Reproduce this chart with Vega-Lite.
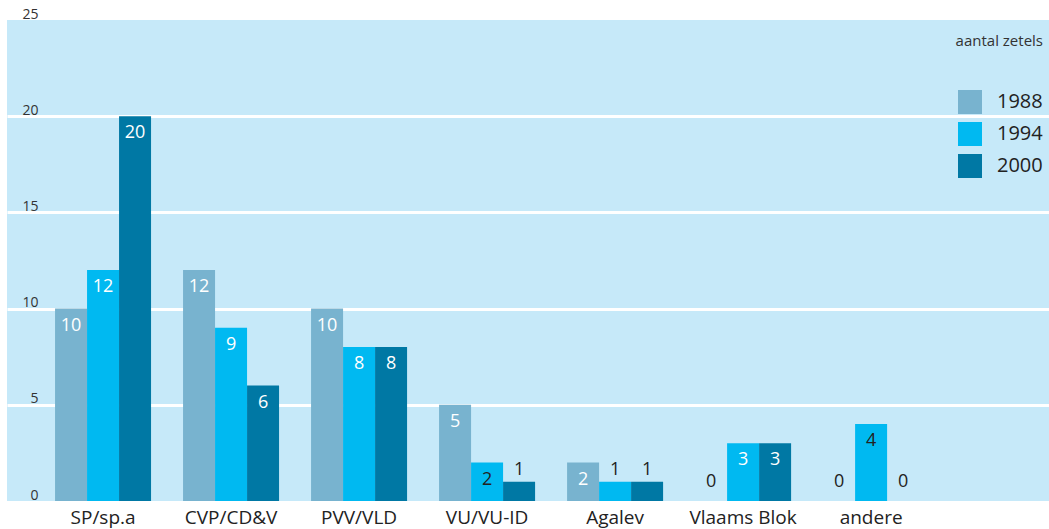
{
  "$schema": "https://vega.github.io/schema/vega-lite/v6.json",
  "width": 1042,
  "height": 481,
  "autosize": {"type": "none"},
  "padding": {"left": 7, "top": 20, "right": 0, "bottom": 28},
  "background": "white",
  "config": {
    "view": {"fill": "#c6e9f9", "stroke": null},
    "font": "Open Sans"
  },
  "data": {
    "values": [
      {"party": "SP/sp.a", "year": "1988", "seats": 10},
      {"party": "SP/sp.a", "year": "1994", "seats": 12},
      {"party": "SP/sp.a", "year": "2000", "seats": 20},
      {"party": "CVP/CD&V", "year": "1988", "seats": 12},
      {"party": "CVP/CD&V", "year": "1994", "seats": 9},
      {"party": "CVP/CD&V", "year": "2000", "seats": 6},
      {"party": "PVV/VLD", "year": "1988", "seats": 10},
      {"party": "PVV/VLD", "year": "1994", "seats": 8},
      {"party": "PVV/VLD", "year": "2000", "seats": 8},
      {"party": "VU/VU-ID", "year": "1988", "seats": 5},
      {"party": "VU/VU-ID", "year": "1994", "seats": 2},
      {"party": "VU/VU-ID", "year": "2000", "seats": 1},
      {"party": "Agalev", "year": "1988", "seats": 2},
      {"party": "Agalev", "year": "1994", "seats": 1},
      {"party": "Agalev", "year": "2000", "seats": 1},
      {"party": "Vlaams Blok", "year": "1988", "seats": 0},
      {"party": "Vlaams Blok", "year": "1994", "seats": 3},
      {"party": "Vlaams Blok", "year": "2000", "seats": 3},
      {"party": "andere", "year": "1988", "seats": 0},
      {"party": "andere", "year": "1994", "seats": 4},
      {"party": "andere", "year": "2000", "seats": 0}
    ]
  },
  "encoding": {
    "x": {
      "field": "party",
      "type": "nominal",
      "sort": ["SP/sp.a", "CVP/CD&V", "PVV/VLD", "VU/VU-ID", "Agalev", "Vlaams Blok", "andere"],
      "scale": {"paddingInner": 0.25, "paddingOuter": 0.695, "align": 0.27},
      "axis": {
        "title": null,
        "labelAngle": 0,
        "ticks": false,
        "domain": false,
        "labelFontSize": 19,
        "labelColor": "#222",
        "labelPadding": 7
      }
    },
    "xOffset": {"field": "year", "type": "nominal", "sort": ["1988", "1994", "2000"]},
    "y": {
      "field": "seats",
      "type": "quantitative",
      "scale": {"domain": [0, 25], "nice": false},
      "axis": {
        "title": null,
        "values": [0, 5, 10, 15, 20, 25],
        "ticks": false,
        "domain": false,
        "labelPadding": -31,
        "labelAlign": "right",
        "labelBaseline": "alphabetic",
        "labelOffset": -2,
        "labelFontSize": 14,
        "labelColor": "#333",
        "grid": true,
        "gridColor": "white",
        "gridWidth": 3,
        "gridOpacity": {"condition": {"test": "datum.value == 0 || datum.value == 25", "value": 0}, "value": 1}
      }
    }
  },
  "layer": [
    {
      "mark": {"type": "bar"},
      "encoding": {
        "color": {
          "field": "year",
          "type": "nominal",
          "scale": {"domain": ["1988", "1994", "2000"], "range": ["#78b3cf", "#00b9f1", "#0078a4"]},
          "legend": {
            "title": "aantal zetels",
            "orient": "none",
            "legendX": 949,
            "legendY": 14,
            "titleFontSize": 15,
            "titleFontWeight": "normal",
            "titleColor": "#333",
            "titlePadding": 41,
            "titleAnchor": "end",
            "symbolType": "square",
            "symbolSize": 576,
            "symbolStrokeWidth": 0,
            "symbolOpacity": 1,
            "rowPadding": 8,
            "labelFontSize": 20,
            "labelColor": "#222",
            "labelOffset": 15
          }
        }
      }
    },
    {
      "transform": [{"filter": "datum.seats >= 2"}],
      "mark": {"type": "text", "baseline": "middle", "dy": 17, "fontSize": 18},
      "encoding": {
        "text": {"field": "seats", "type": "quantitative"},
        "color": {
          "condition": {"test": "!(datum.year == '1994' && (datum.seats == 2 || datum.seats == 4))", "value": "white"},
          "value": "#222"
        }
      }
    },
    {
      "transform": [{"filter": "datum.seats == 1"}],
      "mark": {"type": "text", "baseline": "middle", "dy": -12, "fontSize": 18, "color": "#222"},
      "encoding": {
        "text": {"field": "seats", "type": "quantitative"}
      }
    },
    {
      "transform": [{"filter": "datum.seats == 0"}],
      "mark": {"type": "text", "baseline": "middle", "dy": -19, "fontSize": 18, "color": "#222"},
      "encoding": {
        "text": {"field": "seats", "type": "quantitative"}
      }
    }
  ]
}
